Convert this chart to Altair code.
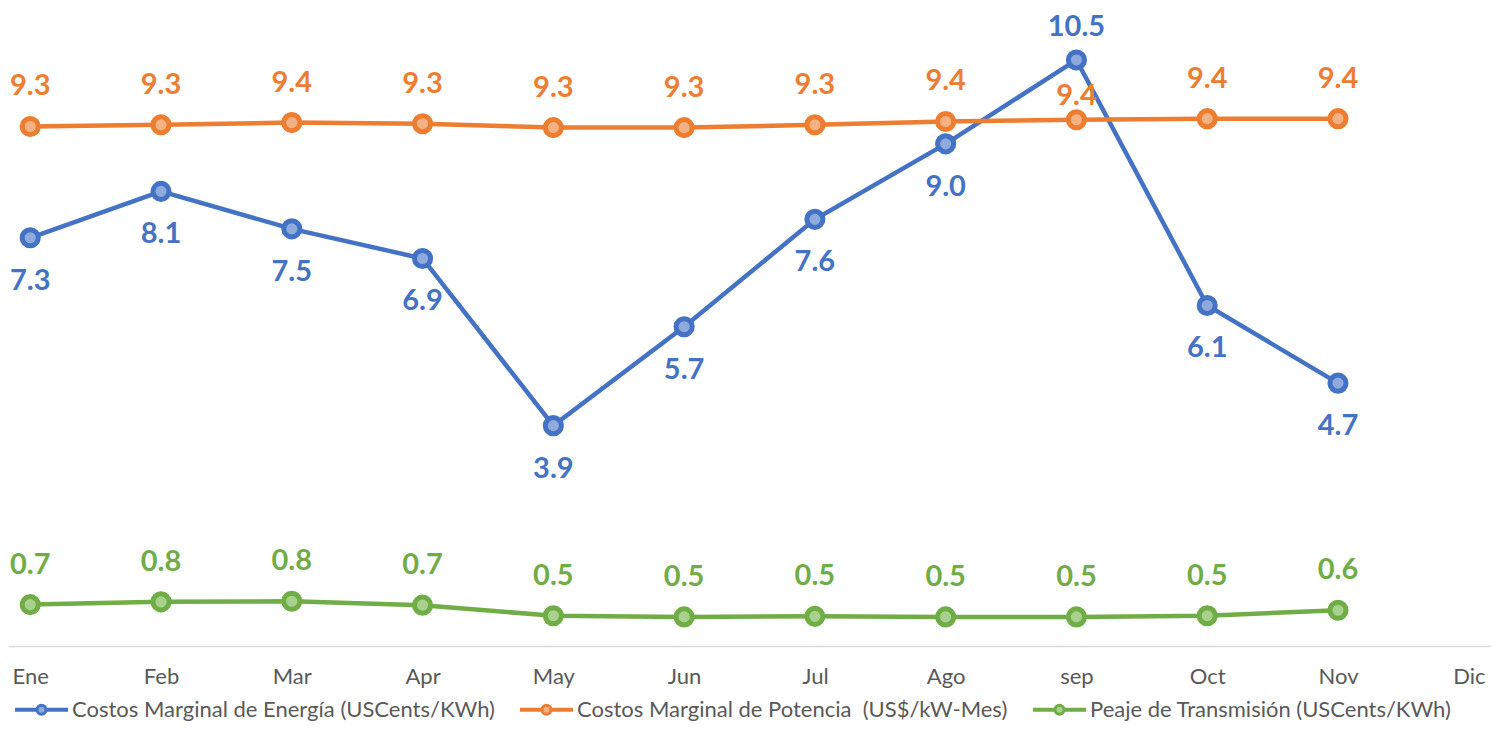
import altair as alt
import pandas as pd

months = ["Ene", "Feb", "Mar", "Apr", "May", "Jun", "Jul", "Ago", "sep", "Oct", "Nov", "Dic"]
data_months = months[:11]
series_names = [
    "Costos Marginal de Energía (USCents/KWh)",
    "Costos Marginal de Potencia\u00a0 (US$/kW-Mes)",
    "Peaje de Transmisión (USCents/KWh)",
]
energia = [7.30, 8.13, 7.46, 6.93, 3.94, 5.71, 7.63, 8.98, 10.48, 6.09, 4.70]
potencia = [9.29, 9.32, 9.36, 9.34, 9.27, 9.27, 9.32, 9.38, 9.41, 9.43, 9.43]
peaje = [0.74, 0.79, 0.80, 0.73, 0.54, 0.52, 0.53, 0.52, 0.52, 0.54, 0.64]
line_colors = ["#4472C4", "#ED7D31", "#70AD47"]
fill_colors = ["#8FAADC", "#F4B183", "#A9D18E"]

rows = []
for name, vals in zip(series_names, [energia, potencia, peaje]):
    for m, v in zip(data_months, vals):
        rows.append({"month": m, "series": name, "value": v})
df = pd.DataFrame(rows)

FONT = "Lato"
sym_path = ("M-1,-0.02H-0.18V0.02H-1Z M0.18,-0.02H1V0.02H0.18Z "
            "M-0.18,0A0.18,0.18 0 1,0 0.18,0A0.18,0.18 0 1,0 -0.18,0Z")

legend = alt.Legend(
    orient="none", legendX=7, legendY=665, direction="horizontal", title=None,
    symbolType=sym_path, symbolSize=2500, symbolStrokeWidth=3,
    labelFont=FONT, labelFontSize=22, labelColor="#595959", labelLimit=0,
    columnPadding=20, labelOffset=4,
)

x_enc = alt.X(
    "month:N", sort=months,
    scale=alt.Scale(domain=months, type="point", padding=0.17),
    axis=alt.Axis(title=None, labelAngle=0, ticks=False, tickSize=0, grid=False,
                  domainColor="#D9D9D9", domainWidth=1.5, labelPadding=20,
                  labelFont=FONT, labelFontSize=22, labelColor="#595959"),
)
y_enc = alt.Y("value:Q", scale=alt.Scale(domain=[0, 11.23], nice=False), axis=None)
stroke_enc = alt.Stroke("series:N", scale=alt.Scale(domain=series_names, range=line_colors), legend=legend)
fill_enc = alt.Fill("series:N", scale=alt.Scale(domain=series_names, range=fill_colors), legend=legend)

base = alt.Chart(df)

lines = base.mark_line(strokeWidth=4.5).encode(x=x_enc, y=y_enc, stroke=stroke_enc)
points = base.mark_point(size=260, strokeWidth=5, filled=False, opacity=1).encode(
    x=x_enc, y=y_enc, stroke=stroke_enc, fill=fill_enc
)


def labels(series_idx, cond, dy):
    return base.transform_filter(
        (alt.datum.series == series_names[series_idx]) & cond
    ).mark_text(
        font=FONT, fontWeight="bold", fontSize=29, dy=dy, baseline="middle",
        color=line_colors[series_idx],
    ).encode(x=x_enc, y=y_enc, text=alt.Text("value:Q", format=".1f"))


t1 = labels(0, alt.datum.month != "sep", 43)
t2 = labels(0, alt.datum.month == "sep", -33)
t3 = labels(1, alt.datum.month != "sep", -40)
t4 = labels(1, alt.datum.month == "sep", -24)
t5 = labels(2, alt.datum.month != "zz", -40)

chart = alt.layer(lines, points, t1, t2, t3, t4, t5).properties(
    width=1483, height=628,
    padding={"left": 0, "top": 10, "right": 0, "bottom": 76},
    autosize=alt.AutoSizeParams(type="none"),
).configure_view(stroke=None)

chart.save("out.html", embed_options={"renderer": "svg", "actions": False})
